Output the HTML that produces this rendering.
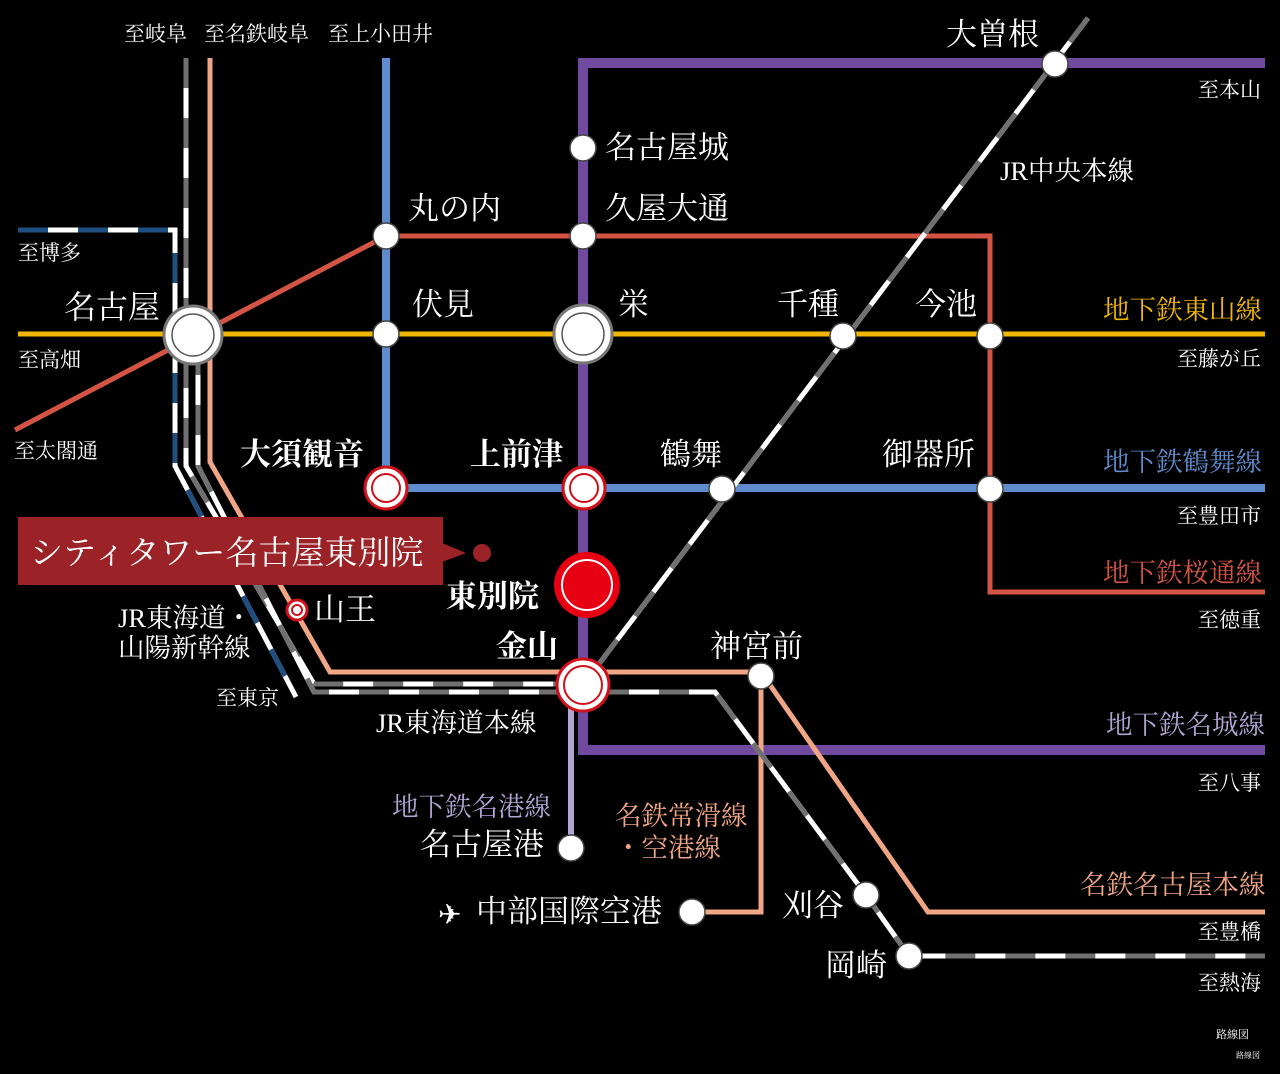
<!DOCTYPE html>
<html><head><meta charset="utf-8"><style>
html,body{margin:0;padding:0;background:#000;}
svg{display:block}
text{font-family:"Liberation Serif","Noto Serif CJK SC",serif;fill:#fff}
.s{font-size:31px}
.t{font-size:21px}
</style></head><body>
<svg width="1280" height="1074" viewBox="0 0 1280 1074" xmlns="http://www.w3.org/2000/svg">
<rect width="1280" height="1074" fill="#000"/>
<g fill="none" stroke-linejoin="miter">
<path d="M1265 63 H583 V750 H1265" stroke="#6f4a9e" stroke-width="10"/>
<path d="M571 695 V848" stroke="#b3a4d4" stroke-width="6"/>
<path d="M15 430 L386 236 H990 V592 H1265" stroke="#d35442" stroke-width="5"/>
<path d="M18 334 H1265" stroke="#f2b705" stroke-width="5"/>
<path d="M386 58 V488 H1265" stroke="#5f8ccc" stroke-width="8"/>
<path d="M210 58 V462 L330 672 H761 L928 912 H1265" stroke="#f0a584" stroke-width="5"/>
<path d="M761 676 V912 H692" stroke="#f0a584" stroke-width="5"/>
<path d="M18 230 H175 V466 L296 697" stroke="#fff" stroke-width="5"/>
<path d="M18 230 H175 V466 L296 697" stroke="#1f4e80" stroke-width="5" stroke-dasharray="30 30"/>
<path d="M186 58 V466 L314 684 H583" stroke="#fff" stroke-width="5"/>
<path d="M186 58 V466 L314 684 H583" stroke="#707070" stroke-width="5" stroke-dasharray="30 30"/>
<path d="M198 345 V466 L314 692 H715 L866 895 L909 956 H1265" stroke="#fff" stroke-width="5"/>
<path d="M198 345 V466 L314 692 H715 L866 895 L909 956 H1265" stroke="#707070" stroke-width="5" stroke-dasharray="30 30"/>
<path d="M1088 18 L583 685" stroke="#fff" stroke-width="5"/>
<path d="M1088 18 L583 685" stroke="#707070" stroke-width="5" stroke-dasharray="30 30"/>
</g>
<g fill="#fff" stroke="#444" stroke-width="1.5">
<circle cx="583" cy="148" r="13"/>
<circle cx="386" cy="236" r="13"/>
<circle cx="583" cy="236" r="13"/>
<circle cx="386" cy="334" r="13"/>
<circle cx="843" cy="336" r="13"/>
<circle cx="990" cy="336" r="13"/>
<circle cx="722" cy="489" r="13"/>
<circle cx="990" cy="489" r="13"/>
<circle cx="1055" cy="64" r="13"/>
<circle cx="761" cy="676" r="13"/>
<circle cx="571" cy="848" r="13"/>
<circle cx="692" cy="912" r="13"/>
<circle cx="866" cy="895" r="13"/>
<circle cx="909" cy="956" r="13"/>
<circle cx="193" cy="335" r="29" stroke="#777" stroke-width="3"/>
<circle cx="583" cy="334" r="29" stroke="#777" stroke-width="3"/>
</g>
<g fill="none" stroke="#555" stroke-width="1.5">
<circle cx="193" cy="335" r="21"/>
<circle cx="583" cy="334" r="21"/>
</g>
<g fill="#fff" stroke="#d0101a">
<circle cx="386" cy="488" r="21" stroke-width="3"/>
<circle cx="584" cy="488" r="21" stroke-width="3"/>
<circle cx="583" cy="685" r="26" stroke-width="3"/>
<circle cx="297" cy="610" r="10" stroke-width="3"/>
</g>
<g fill="none" stroke="#d0101a" stroke-width="2">
<circle cx="386" cy="488" r="14"/>
<circle cx="584" cy="488" r="14"/>
<circle cx="583" cy="685" r="19"/>
<circle cx="297" cy="610" r="5"/>
</g>
<circle cx="587" cy="585" r="33" fill="#e60012"/>
<circle cx="587" cy="585" r="25" fill="none" stroke="#fff" stroke-width="2"/>
<rect x="18" y="517" width="425" height="68" fill="#9b2226"/>
<polygon points="442,543 466,553 442,562" fill="#9b2226"/>
<circle cx="482" cy="553" r="9" fill="#9b2226"/>
<text x="30" y="564" style="font-size:33px">シティタワー名古屋東別院</text>
<g class="s">
<text x="946" y="45">大曽根</text>
<text x="605" y="158">名古屋城</text>
<text x="408" y="219">丸の内</text>
<text x="605" y="219">久屋大通</text>
<text x="64" y="318" style="font-size:32px">名古屋</text>
<text x="412" y="315">伏見</text>
<text x="618" y="315">栄</text>
<text x="777" y="315">千種</text>
<text x="915" y="315">今池</text>
<text x="240" y="465" style="font-weight:bold">大須観音</text>
<text x="470" y="465" style="font-weight:bold">上前津</text>
<text x="660" y="465">鶴舞</text>
<text x="882" y="465">御器所</text>
<text x="446" y="607" style="font-weight:bold">東別院</text>
<text x="496" y="657" style="font-weight:bold">金山</text>
<text x="314" y="620">山王</text>
<text x="710" y="657">神宮前</text>
<text x="420" y="855">名古屋港</text>
<text x="476" y="922">中部国際空港</text>
<text x="782" y="916">刈谷</text>
<text x="825" y="976">岡崎</text>
</g>
<text x="438" y="924" style="font-size:28px">✈</text>
<g class="t">
<text x="124" y="41">至岐阜</text>
<text x="204" y="41">至名鉄岐阜</text>
<text x="328" y="41">至上小田井</text>
<text x="1198" y="97">至本山</text>
<text x="18" y="260">至博多</text>
<text x="18" y="367">至高畑</text>
<text x="14" y="458">至太閤通</text>
<text x="1177" y="366">至藤が丘</text>
<text x="1177" y="523">至豊田市</text>
<text x="1198" y="627">至徳重</text>
<text x="1198" y="790">至八事</text>
<text x="1198" y="939">至豊橋</text>
<text x="1198" y="990">至熱海</text>
<text x="216" y="705">至東京</text>
</g>
<g style="font-size:26.5px">
<text x="1000" y="180">JR中央本線</text>
<text x="1103" y="319" style="fill:#f2b705">地下鉄東山線</text>
<text x="1103" y="471" style="fill:#5f8ccc">地下鉄鶴舞線</text>
<text x="1103" y="582" style="fill:#d35442">地下鉄桜通線</text>
<text x="1106" y="734" style="fill:#b3a4d4">地下鉄名城線</text>
<text x="1080" y="894" style="fill:#f0a584">名鉄名古屋本線</text>
<text x="392" y="816" style="fill:#b3a4d4">地下鉄名港線</text>
<text x="615" y="825" style="fill:#f0a584">名鉄常滑線</text>
<text x="615" y="857" style="fill:#f0a584">・空港線</text>
<text x="376" y="732">JR東海道本線</text>
<text x="118" y="627">JR東海道・</text>
<text x="118" y="657">山陽新幹線</text>
</g>
<text x="1216" y="1038" style="font-size:11px">路線図</text>
<text x="1236" y="1058" style="font-size:8px">路線図</text>
</svg>
</body></html>
